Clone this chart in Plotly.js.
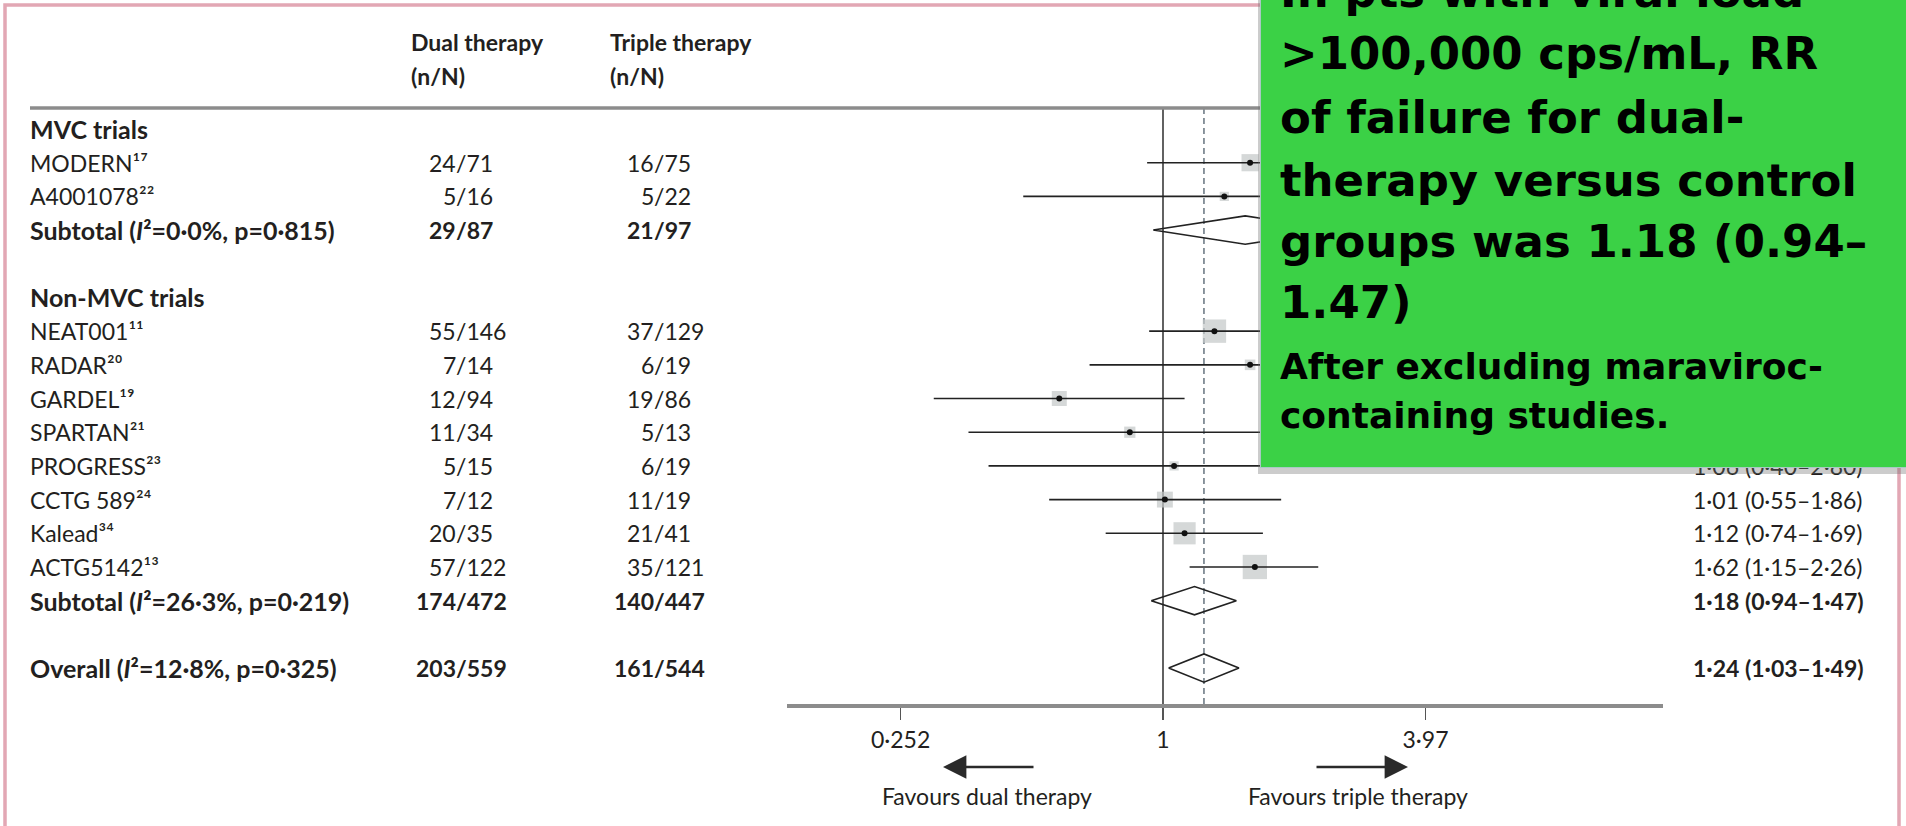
<!DOCTYPE html>
<html><head><meta charset="utf-8">
<script src="https://cdn.plot.ly/plotly-3.0.1.min.js"></script>
<style>html,body{margin:0;padding:0;background:#fff;overflow:hidden}#chart{width:1906px;height:826px}</style>
</head><body><div id="chart"></div>
<script>
// ---------------- data ----------------
const studyNames   = ['MODERN','A4001078','NEAT001','RADAR','GARDEL','SPARTAN','PROGRESS','CCTG 589','Kalead','ACTG5142'];
const studyRefs    = ['17','22','11','20','19','21','23','24','34','13'];
const studyGroups  = ['MVC trials','MVC trials','Non-MVC trials','Non-MVC trials','Non-MVC trials','Non-MVC trials','Non-MVC trials','Non-MVC trials','Non-MVC trials','Non-MVC trials'];
const dualEvents   = [24, 5, 55, 7, 12, 11, 5, 7, 20, 57];
const dualTotals   = [71, 16, 146, 14, 94, 34, 15, 12, 35, 122];
const tripleEvents = [16, 5, 37, 6, 19, 5, 6, 11, 21, 35];
const tripleTotals = [75, 22, 129, 19, 86, 13, 19, 19, 41, 121];
const rrEstimate   = [1.58, 1.38, 1.31, 1.58, 0.58, 0.84, 1.06, 1.01, 1.12, 1.62];
const rrLower      = [0.92, 0.48, 0.93, 0.68, 0.30, 0.36, 0.40, 0.55, 0.74, 1.15];
const rrUpper      = [2.73, 3.96, 1.85, 3.68, 1.12, 1.96, 2.80, 1.86, 1.69, 2.26];
const studyWeights = [10.5, 3.0, 19.5, 4.0, 8.0, 4.5, 3.0, 9.0, 17.5, 21.0];

const groupNames        = ['MVC trials', 'Non-MVC trials'];
const pooledLabels      = ['Subtotal (<i>I</i>²=0·0%, p=0·815)', 'Subtotal (<i>I</i>²=26·3%, p=0·219)', 'Overall (<i>I</i>²=12·8%, p=0·325)'];
const pooledDualEvents  = [29, 174, 203];
const pooledDualTotals  = [87, 472, 559];
const pooledTripleEvents= [21, 140, 161];
const pooledTripleTotals= [97, 447, 544];
const pooledEstimate    = [1.54, 1.18, 1.24];
const pooledLower       = [0.95, 0.94, 1.03];
const pooledUpper       = [2.50, 1.47, 1.49];

const tickValues   = [0.252, 1, 3.97];
const tickLabels   = ['0·252', '1', '3·97'];
const headerLines  = [['Dual therapy', '(n/N)'], ['Triple therapy', '(n/N)']];
const favourLabels = ['Favours dual therapy', 'Favours triple therapy'];
const noteBig      = ['In pts with viral load', '&gt;100,000 cps/mL, RR', 'of failure for dual-', 'therapy versus control', 'groups was 1.18 (0.94–', '1.47)'];
const noteSmall    = ['After excluding maraviroc-', 'containing studies.'];

// ---------------- layout geometry ----------------
const W = 1906, H = 826;
const PL = 787, PR = 1663, PT = 108, PB = 704;
const px2x = p => (p - PL) / (PR - PL);
const py2y = p => (PB - p) / (PB - PT);
const rowTopPx = 129, rowStep = 33.69;
const rowPx = row => rowTopPx + row * rowStep;
const yTop = -(rowTopPx - PT) / rowStep;
const yBottom = (PB - rowTopPx) / rowStep;

const TF = 'Lato, "Open Sans", sans-serif';
const TC = '#231f20';
const FS = 23;
const FSB = 25;
const labelX = 30, dualSlashX = 456, tripleSlashX = 654, estX = 1693;
const dualHeadX = 411, tripleHeadX = 610;
const boxLeft = 1260, boxBottom = 468;

const SUP = {'0':'⁰','1':'¹','2':'²','3':'³','4':'⁴','5':'⁵','6':'⁶','7':'⁷','8':'⁸','9':'⁹'};
const toSup = s => s.split('').map(c => SUP[c] || c).join('');

// rows
const studyRow = [], headerRow = {}, subtotalRow = {};
let r = 0;
groupNames.forEach(g => {
  headerRow[g] = r++;
  studyNames.forEach((n, i) => { if (studyGroups[i] === g) studyRow[i] = r++; });
  subtotalRow[g] = r++;
  r++;
});
const overallRow = r;
const pooledRows = [subtotalRow[groupNames[0]], subtotalRow[groupNames[1]], overallRow];
const visibleEst = row => rowPx(row) + 12 > boxBottom;

const fmt = v => v.toFixed(2).replace('.', '·');

// ---------------- annotations ----------------
const ann = [];
function txt(text, xpx, y, yref, anchor, size, opts) {
  const o = Object.assign({
    text: text, xref: 'paper', x: px2x(xpx), yref: yref, y: y,
    xanchor: anchor, yanchor: 'middle', showarrow: false,
    borderpad: 0, borderwidth: 0,
    font: {family: TF, size: size || FS, color: TC}
  }, opts || {});
  ann.push(o);
}
function cell(ev, tot, slashX, row, bold) {
  const b = s => bold ? '<b>' + s + '</b>' : s;
  txt(b(String(ev)), slashX, row, 'y', 'right');
  txt(b('/' + tot), slashX, row, 'y', 'left');
}

headerLines.forEach((lines, k) => {
  const hx = k === 0 ? dualHeadX : tripleHeadX;
  txt('<b>' + lines[0] + '</b>', hx, py2y(42), 'paper', 'left');
  txt('<b>' + lines[1] + '</b>', hx, py2y(76), 'paper', 'left');
});

groupNames.forEach(g => txt('<b>' + g + '</b>', labelX, headerRow[g], 'y', 'left', FSB));

studyNames.forEach((n, i) => {
  const row = studyRow[i];
  txt(n + toSup(studyRefs[i]), labelX, row, 'y', 'left');
  cell(dualEvents[i], dualTotals[i], dualSlashX, row, false);
  cell(tripleEvents[i], tripleTotals[i], tripleSlashX, row, false);
  if (visibleEst(row))
    txt(fmt(rrEstimate[i]) + ' (' + fmt(rrLower[i]) + '–' + fmt(rrUpper[i]) + ')', estX, row, 'y', 'left');
});

pooledLabels.forEach((lab, k) => {
  const row = pooledRows[k];
  txt('<b>' + lab + '</b>', labelX, row, 'y', 'left', FSB);
  cell(pooledDualEvents[k], pooledDualTotals[k], dualSlashX, row, true);
  cell(pooledTripleEvents[k], pooledTripleTotals[k], tripleSlashX, row, true);
  if (visibleEst(row))
    txt('<b>' + fmt(pooledEstimate[k]) + ' (' + fmt(pooledLower[k]) + '–' + fmt(pooledUpper[k]) + ')</b>', estX, row, 'y', 'left');
});

// favour arrows + labels
ann.push({xref:'paper', yref:'paper', x: px2x(943), y: py2y(767), ax: 92, ay: 0, axref:'pixel', ayref:'pixel',
  text:'', showarrow:true, arrowhead:2, arrowsize:1.8, arrowwidth:2.6, arrowcolor:'#2a2a2a', standoff:0, startstandoff:0});
ann.push({xref:'paper', yref:'paper', x: px2x(1408), y: py2y(767), ax: -93, ay: 0, axref:'pixel', ayref:'pixel',
  text:'', showarrow:true, arrowhead:2, arrowsize:1.8, arrowwidth:2.6, arrowcolor:'#2a2a2a', standoff:0, startstandoff:0});
txt(favourLabels[0], 987, py2y(796), 'paper', 'center', 23);
txt(favourLabels[1], 1358, py2y(796), 'paper', 'center', 23);

// green callout (drawn on top of everything)
ann.push({xref:'paper', yref:'paper', x: px2x(boxLeft - 2), y: py2y(boxBottom + 6), xanchor:'left', yanchor:'bottom',
  width: 700, height: 520, bgcolor:'rgba(110,110,110,0.35)', text:' ', showarrow:false, borderpad:0, borderwidth:0});
ann.push({xref:'paper', yref:'paper', x: px2x(boxLeft), y: py2y(boxBottom), xanchor:'left', yanchor:'bottom',
  width: 700, height: 520, bgcolor:'#3bd146', bordercolor:'#a9c9c4', borderwidth:1, text:' ', showarrow:false, borderpad:0});
const bigY = [-8, 54, 117, 180, 241, 302];
const smallY = [366, 415];
const NF = '"Comic Sans MS", "DejaVu Sans", sans-serif';
noteBig.forEach((t, k) => txt('<b>' + t + '</b>', 1280, py2y(bigY[k]), 'paper', 'left', 45, {font:{family:NF, size:45, color:'#000'}}));
noteSmall.forEach((t, k) => txt('<b>' + t + '</b>', 1280, py2y(smallY[k]), 'paper', 'left', 36, {font:{family:NF, size:36, color:'#000'}}));

// ---------------- traces ----------------
const traces = [];
traces.push({x:[1,1], y:[yTop, yBottom], mode:'lines', line:{color:'#3a3a3a', width:1.6}, hoverinfo:'skip'});
traces.push({x:[pooledEstimate[2], pooledEstimate[2]], y:[yTop, yBottom], mode:'lines', line:{color:'#4f5e6b', width:1.3, dash:'6px,4px'}, hoverinfo:'skip'});
traces.push({x: rrEstimate, y: studyRow, mode:'markers', hoverinfo:'skip',
  marker:{symbol:'square', size: studyWeights.map(w => 5.3 * Math.sqrt(w)), color:'#c3c8c8', line:{width:0}}});
const cix = [], ciy = [];
studyNames.forEach((n, i) => { cix.push(rrLower[i], rrUpper[i], null); ciy.push(studyRow[i], studyRow[i], null); });
traces.push({x: cix, y: ciy, mode:'lines', line:{color:'#222', width:1.6}, hoverinfo:'skip', connectgaps:false});
traces.push({x: rrEstimate, y: studyRow, mode:'markers', hoverinfo:'skip', marker:{symbol:'circle', size:6, color:'#111'}});
const dh = 0.42;
pooledEstimate.forEach((e, k) => {
  const row = pooledRows[k];
  traces.push({x:[pooledLower[k], e, pooledUpper[k], e, pooledLower[k]], y:[row, row - dh, row, row + dh, row],
    mode:'lines', line:{color:'#222', width:1.6}, hoverinfo:'skip'});
});

// ---------------- layout ----------------
const layout = {
  width: W, height: H, showlegend: false, hovermode: false,
  paper_bgcolor:'#fff', plot_bgcolor:'rgba(0,0,0,0)',
  margin: {l: PL, r: W - PR, t: PT, b: H - PB, pad: 0},
  xaxis: {type:'log', range:[Math.log10(Math.exp((PL - 1163) / 190.4)), Math.log10(Math.exp((PR - 1163) / 190.4))],
    tickvals: tickValues, ticktext: tickLabels, ticks:'outside', ticklen:12, tickwidth:1.5, tickcolor:'#555',
    showline:true, linecolor:'#8c8c8c', linewidth:4, showgrid:false, zeroline:false, fixedrange:true,
    tickfont:{family:TF, size:23, color:TC}},
  yaxis: {range:[yBottom, yTop], visible:false, fixedrange:true},
  shapes: [
    {type:'rect', xref:'paper', yref:'paper', x0: px2x(5), x1: px2x(1899), y0: py2y(5), y1: py2y(900),
      line:{color:'#e2a7b4', width:3.5}, fillcolor:'rgba(0,0,0,0)', layer:'below'},
    {type:'line', xref:'paper', yref:'paper', x0: px2x(30), x1: px2x(1880), y0: py2y(108), y1: py2y(108),
      line:{color:'#8c8c8c', width:3.5}}
  ],
  annotations: ann
};

Plotly.newPlot('chart', traces, layout, {staticPlot:true, displayModeBar:false});
</script>
</body></html>
